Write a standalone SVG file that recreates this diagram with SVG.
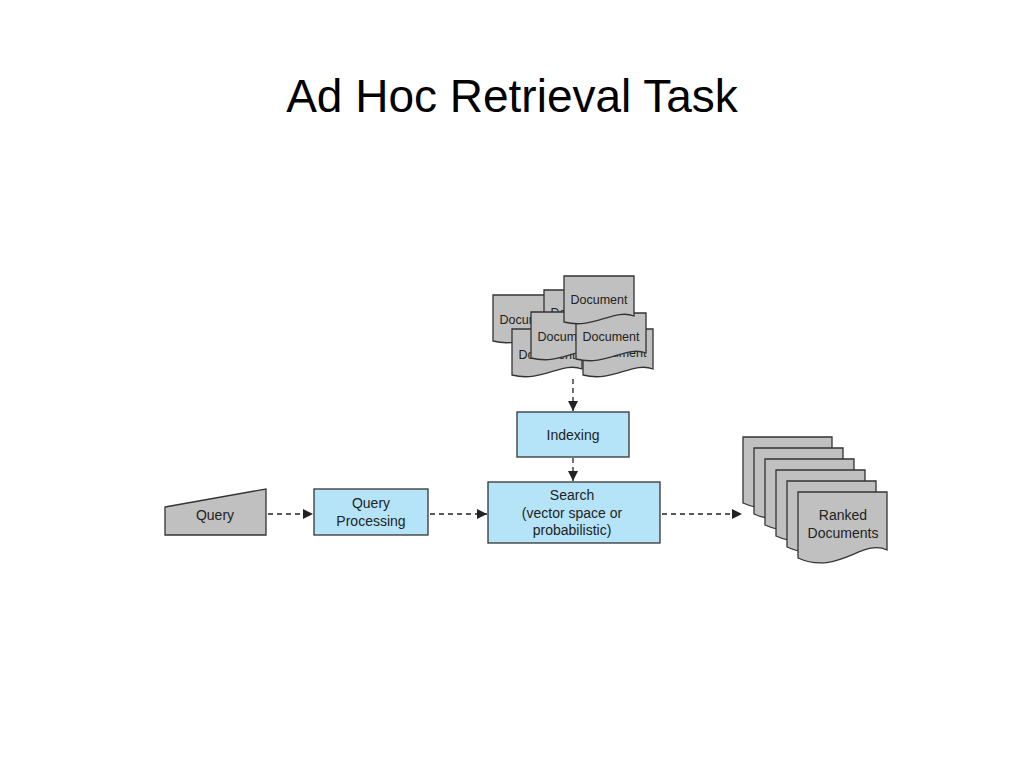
<svg xmlns="http://www.w3.org/2000/svg" xmlns:xlink="http://www.w3.org/1999/xlink" width="1024" height="768" viewBox="0 0 1024 768">
<style>
text{font-family:"Liberation Sans",Arial,sans-serif;fill:#222;text-anchor:middle}
.title{font-size:46px;fill:#000}
.gray{fill:#c0c0c0;stroke:#333;stroke-width:1.3}
.blue{fill:#b5e4f8;stroke:#333;stroke-width:1.3}
.dt{font-size:12.5px}
.lbl{font-size:14px}
.conn{stroke:#222;stroke-width:1.3;fill:none;stroke-dasharray:5 4}
</style>
<defs>
<path id="doc" d="M0,0 H70 V40 C50,32 30,54 0,46 Z"/>
<path id="page" d="M0,0 H89 V58 C65,46 40,84 0,66 Z"/>
<marker id="ah" viewBox="0 0 10 10" refX="10" refY="5" markerWidth="10" markerHeight="10" markerUnits="userSpaceOnUse" orient="auto">
<path d="M0,0 L10,5 L0,10 Z" fill="#222"/>
</marker>
</defs>
<rect width="1024" height="768" fill="#fff"/>
<text class="title" x="512" y="112">Ad Hoc Retrieval Task</text>

<g id="documents">
<g><use xlink:href="#doc" x="493" y="295" class="gray"/><text class="dt" x="528" y="324">Document</text></g>
<g><use xlink:href="#doc" x="544" y="290" class="gray"/><text class="dt" x="579" y="317">Document</text></g>
<g><use xlink:href="#doc" x="512" y="329" class="gray"/><text class="dt" x="547" y="359">Document</text></g>
<g><use xlink:href="#doc" x="583" y="329" class="gray"/><text class="dt" x="618" y="357">Document</text></g>
<g><use xlink:href="#doc" x="531" y="312" class="gray"/><text class="dt" x="566" y="341">Document</text></g>
<g><use xlink:href="#doc" x="576" y="313" class="gray"/><text class="dt" x="611" y="341">Document</text></g>
<g><use xlink:href="#doc" x="564" y="276" class="gray"/><text class="dt" x="599" y="304">Document</text></g>
</g>

<g id="query">
<path class="gray" d="M165,507 L266,489 L266,535 L165,535 Z"/>
<text class="lbl" x="215" y="520">Query</text>
</g>

<g id="query-processing">
<rect class="blue" x="314" y="489" width="114" height="46"/>
<text class="lbl" x="371" y="508">Query</text>
<text class="lbl" x="371" y="526">Processing</text>
</g>

<g id="indexing">
<rect class="blue" x="517" y="412" width="112" height="45"/>
<text class="lbl" x="573" y="440">Indexing</text>
</g>

<g id="search">
<rect class="blue" x="488" y="482" width="172" height="61"/>
<text class="lbl" x="572" y="500">Search</text>
<text class="lbl" x="572" y="518">(vector space or</text>
<text class="lbl" x="572" y="535">probabilistic)</text>
</g>

<g id="ranked-documents">
<use xlink:href="#page" x="743" y="437" class="gray"/>
<use xlink:href="#page" x="754" y="448" class="gray"/>
<use xlink:href="#page" x="765" y="459" class="gray"/>
<use xlink:href="#page" x="776" y="470" class="gray"/>
<use xlink:href="#page" x="787" y="481" class="gray"/>
<use xlink:href="#page" x="798" y="492" class="gray"/>
<text class="lbl" x="843" y="520">Ranked</text>
<text class="lbl" x="843" y="538">Documents</text>
</g>

<g id="connectors">
<line class="conn" x1="573" y1="379" x2="573" y2="411" marker-end="url(#ah)"/>
<line class="conn" x1="573" y1="458" x2="573" y2="481" marker-end="url(#ah)"/>
<line class="conn" x1="268" y1="514" x2="313" y2="514" marker-end="url(#ah)"/>
<line class="conn" x1="430" y1="514" x2="487" y2="514" marker-end="url(#ah)"/>
<line class="conn" x1="662" y1="514" x2="742" y2="514" marker-end="url(#ah)"/>
</g>
</svg>
